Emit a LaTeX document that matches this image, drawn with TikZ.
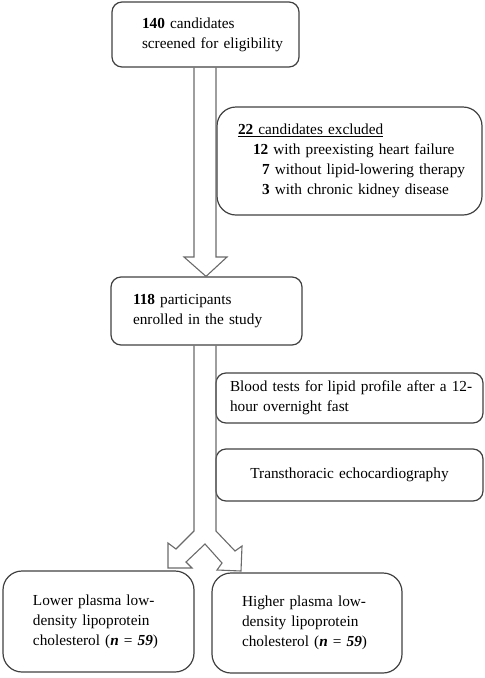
\documentclass[tikz,border=0pt]{standalone}
\usepackage{fontspec}
\setmainfont{Liberation Serif}
\definecolor{boxline}{HTML}{404040}
\definecolor{arrline}{HTML}{6A6A6A}
\newcommand\diagfont{\fontsize{15.3}{20}\selectfont}
\newcommand\ind[1]{\hspace*{#1pt}}
\begin{document}
\begin{tikzpicture}[x=1pt,y=-1pt,
  box/.style={draw=boxline, line width=1.2pt, rounded corners=10pt, inner xsep=2pt, inner ysep=0pt,
    align=left, font=\diagfont},
  roundbox/.style={box, rounded corners=19pt},
  blockarrow/.style={draw=arrline, line width=1.1pt, line join=miter}]
\useasboundingbox (0,0) rectangle (485,678);

% boxes
\node[box, minimum width=187pt, minimum height=65pt, text width=183pt] (top) at (205.5,34.5)
  {\ind{28}\textbf{140} candidates\\\ind{28}screened for eligibility};
\node[roundbox, minimum width=265pt, minimum height=108pt, text width=261pt] (excl) at (349.5,161)
  {\ind{19}\underline{\textbf{22} candidates excluded}\\
   \ind{34}\textbf{12} with preexisting heart failure\\
   \ind{43}\textbf{7} without lipid-lowering therapy\\
   \ind{43}\textbf{3} with chronic kidney disease};
\node[box, minimum width=191pt, minimum height=68pt, text width=187pt] (enr) at (206.5,311)
  {\ind{20}\textbf{118} participants\\\ind{20}enrolled in the study};
\node[box, minimum width=267pt, minimum height=50pt, text width=263pt] (blood) at (349.5,398)
  {\ind{12}Blood tests for lipid profile after a 12-\\\ind{12}hour overnight fast};
\node[box, minimum width=267pt, minimum height=52pt, text width=263pt, align=center] (trans) at (349.5,475)
  {Transthoracic echocardiography};
\node[roundbox, minimum width=191pt, minimum height=101pt, text width=187pt] (low) at (98.5,621.5)
  {\ind{28}Lower plasma low-\\\ind{28}density lipoprotein\\\ind{28}cholesterol (\textbf{\textit{n}} = \textbf{\textit{59}})};
\node[roundbox, minimum width=190pt, minimum height=100pt, text width=186pt] (high) at (307,623)
  {\ind{28}Higher plasma low-\\\ind{28}density lipoprotein\\\ind{28}cholesterol (\textbf{\textit{n}} = \textbf{\textit{59}})};

% shaft reference lines
\coordinate (sL) at (194,0);
\coordinate (sR) at (216,0);
\coordinate (tip1) at (206,0);

% block arrow from screening to enrolment
\draw[blockarrow] (top.south -| sL) -- (194,257) -- (184,257) -- (enr.north -| tip1)
  -- (227,257) -- (216,257) -- (top.south -| sR);

% split block arrow from enrolment to the two groups
\draw[blockarrow] (enr.south -| sL) -- (194,531) -- (176,549) -- (168,543) -- (168,568)
  -- (192,568) -- (186,562) -- (205,544) -- (222,563) -- (217,570) -- (241,571)
  -- (242,546) -- (235,551) -- (216,531) -- (enr.south -| sR);
\end{tikzpicture}
\end{document}
